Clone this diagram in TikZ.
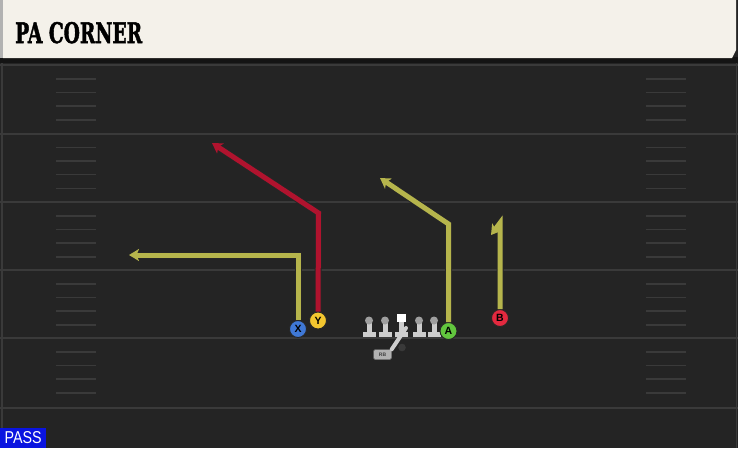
\documentclass[tikz,border=0pt]{standalone}
\usepackage{fontspec}
\setsansfont{Liberation Sans}
\newfontfamily\titlefont[FakeBold=2]{DejaVu Serif}
\usetikzlibrary{arrows.meta, positioning}

\definecolor{fieldgray}{HTML}{242424}
\definecolor{linegray}{HTML}{3A3A3A}
\definecolor{headercream}{HTML}{F4F1EA}
\definecolor{routeolive}{HTML}{B6B54C}
\definecolor{routered}{HTML}{B0132E}
\definecolor{xblue}{HTML}{3F78D6}
\definecolor{yyellow}{HTML}{F3C62F}
\definecolor{agreen}{HTML}{62C63E}
\definecolor{bred}{HTML}{E3293F}
\definecolor{passblue}{HTML}{0A14E0}
\definecolor{olgray}{HTML}{CDCDCD}

\tikzset{
  player/.style={circle, draw=black!85, line width=0.9pt, minimum size=17pt, inner sep=0pt,
    font=\sffamily\bfseries\fontsize{10.5}{10.5}\selectfont},
  route/.style={draw=#1, line width=5pt, -{Stealth[length=10pt,width=12pt,inset=2.5pt]},
    preaction={draw=black!85, line width=7pt}},
  yardline/.style={draw=linegray, line width=2pt},
  hashmark/.style={draw=linegray, line width=1.6pt},
}

\begin{document}
\begin{tikzpicture}[x=1pt, y=-1pt]

  \useasboundingbox (0,0) rectangle (738,448);

  % field
  \fill[fieldgray] (0,0) rectangle (738,448);
  \draw[linegray, line width=1.5pt] (2,63) -- (2,448);
  \draw[linegray, line width=1.5pt] (736.5,63) -- (736.5,448);
  \foreach \yl in {65,133.5,202,270,338,408}
    \draw[yardline] (0,\yl) -- (738,\yl);
  \foreach \yl in {65,133.5,202,270,338} {
    \foreach \dy in {14,27.5,41,55} {
      \draw[hashmark] (56,\yl+\dy) -- (96,\yl+\dy);
      \draw[hashmark] (646,\yl+\dy) -- (686,\yl+\dy);
    }
  }

  % header
  \fill[black!92] (0,57) rectangle (738,63);
  \fill[gray!60] (0,0) rectangle (3,58);
  \fill[headercream] (3,0) -- (736,0) -- (736,50) -- (732,58) -- (3,58) -- cycle;
  \node[anchor=base west, inner sep=0pt] (title) at (15,43)
    {\resizebox{127pt}{21pt}{\titlefont\bfseries PA CORNER}};

  % offensive line
  \foreach \lx in {369,385,419,434} {
    \fill[olgray] (\lx-6.5,332) rectangle (\lx+6.5,336.5);
    \fill[olgray] (\lx-2.5,322) rectangle (\lx+2.5,333);
    \fill[gray!75] (\lx,320.5) circle (4pt);
  }
  \fill[olgray] (395,332) rectangle (408,336.5);
  \fill[olgray] (399,321) rectangle (404,333);
  \node[fill=white, minimum size=8.5pt, inner sep=0pt] (C) at (401.5,318) {};
  \node[fill=gray!60, draw=black!60, rounded corners=1.5pt, minimum width=18pt, minimum height=10pt, inner sep=0pt,
    text=black!75, font=\sffamily\bfseries\fontsize{5}{5}\selectfont] (RB) at (382.5,354.5) {RB};
  \coordinate (fake) at (406,328);
  \draw[olgray, line width=4pt, line cap=round] (RB.north east) -- (fake);
  \fill[gray!45!black] (402,347.5) circle (3.8pt);

  % route turns
  \coordinate (xturn) at (298,255);
  \coordinate (xend) at (129,255);
  \coordinate (yturn) at (318.5,213);
  \coordinate (yend) at (212,143);
  \coordinate (aturn) at (448.5,224);
  \coordinate (aend) at (380,178);
  \coordinate (bturn) at (500,223);
  \coordinate (bend) at (491,235);

  % skill players
  \node[player, fill=xblue] (X) at (298,329) {X};
  \node[player, fill=yyellow] (Y) at (318,320.5) {Y};
  \node[player, fill=agreen] (A) at (448.5,331) {A};
  \node[player, fill=bred] (B) at (500,318) {B};

  % routes
  \draw[route=routeolive] (X) -- (xturn) -- (xend);
  \draw[route=routered] (Y) -- (yturn) -- (yend);
  \draw[route=routeolive] (A) -- (aturn) -- (aend);
  \draw[route=routeolive] (B) -- (bturn) -- (bend);

  % play type
  \node[fill=passblue, anchor=south west, minimum width=46pt, minimum height=20pt, inner sep=0pt,
    text=white] (pass) at (0,448) {\resizebox{37pt}{12pt}{\sffamily PASS}};

\end{tikzpicture}
\end{document}
